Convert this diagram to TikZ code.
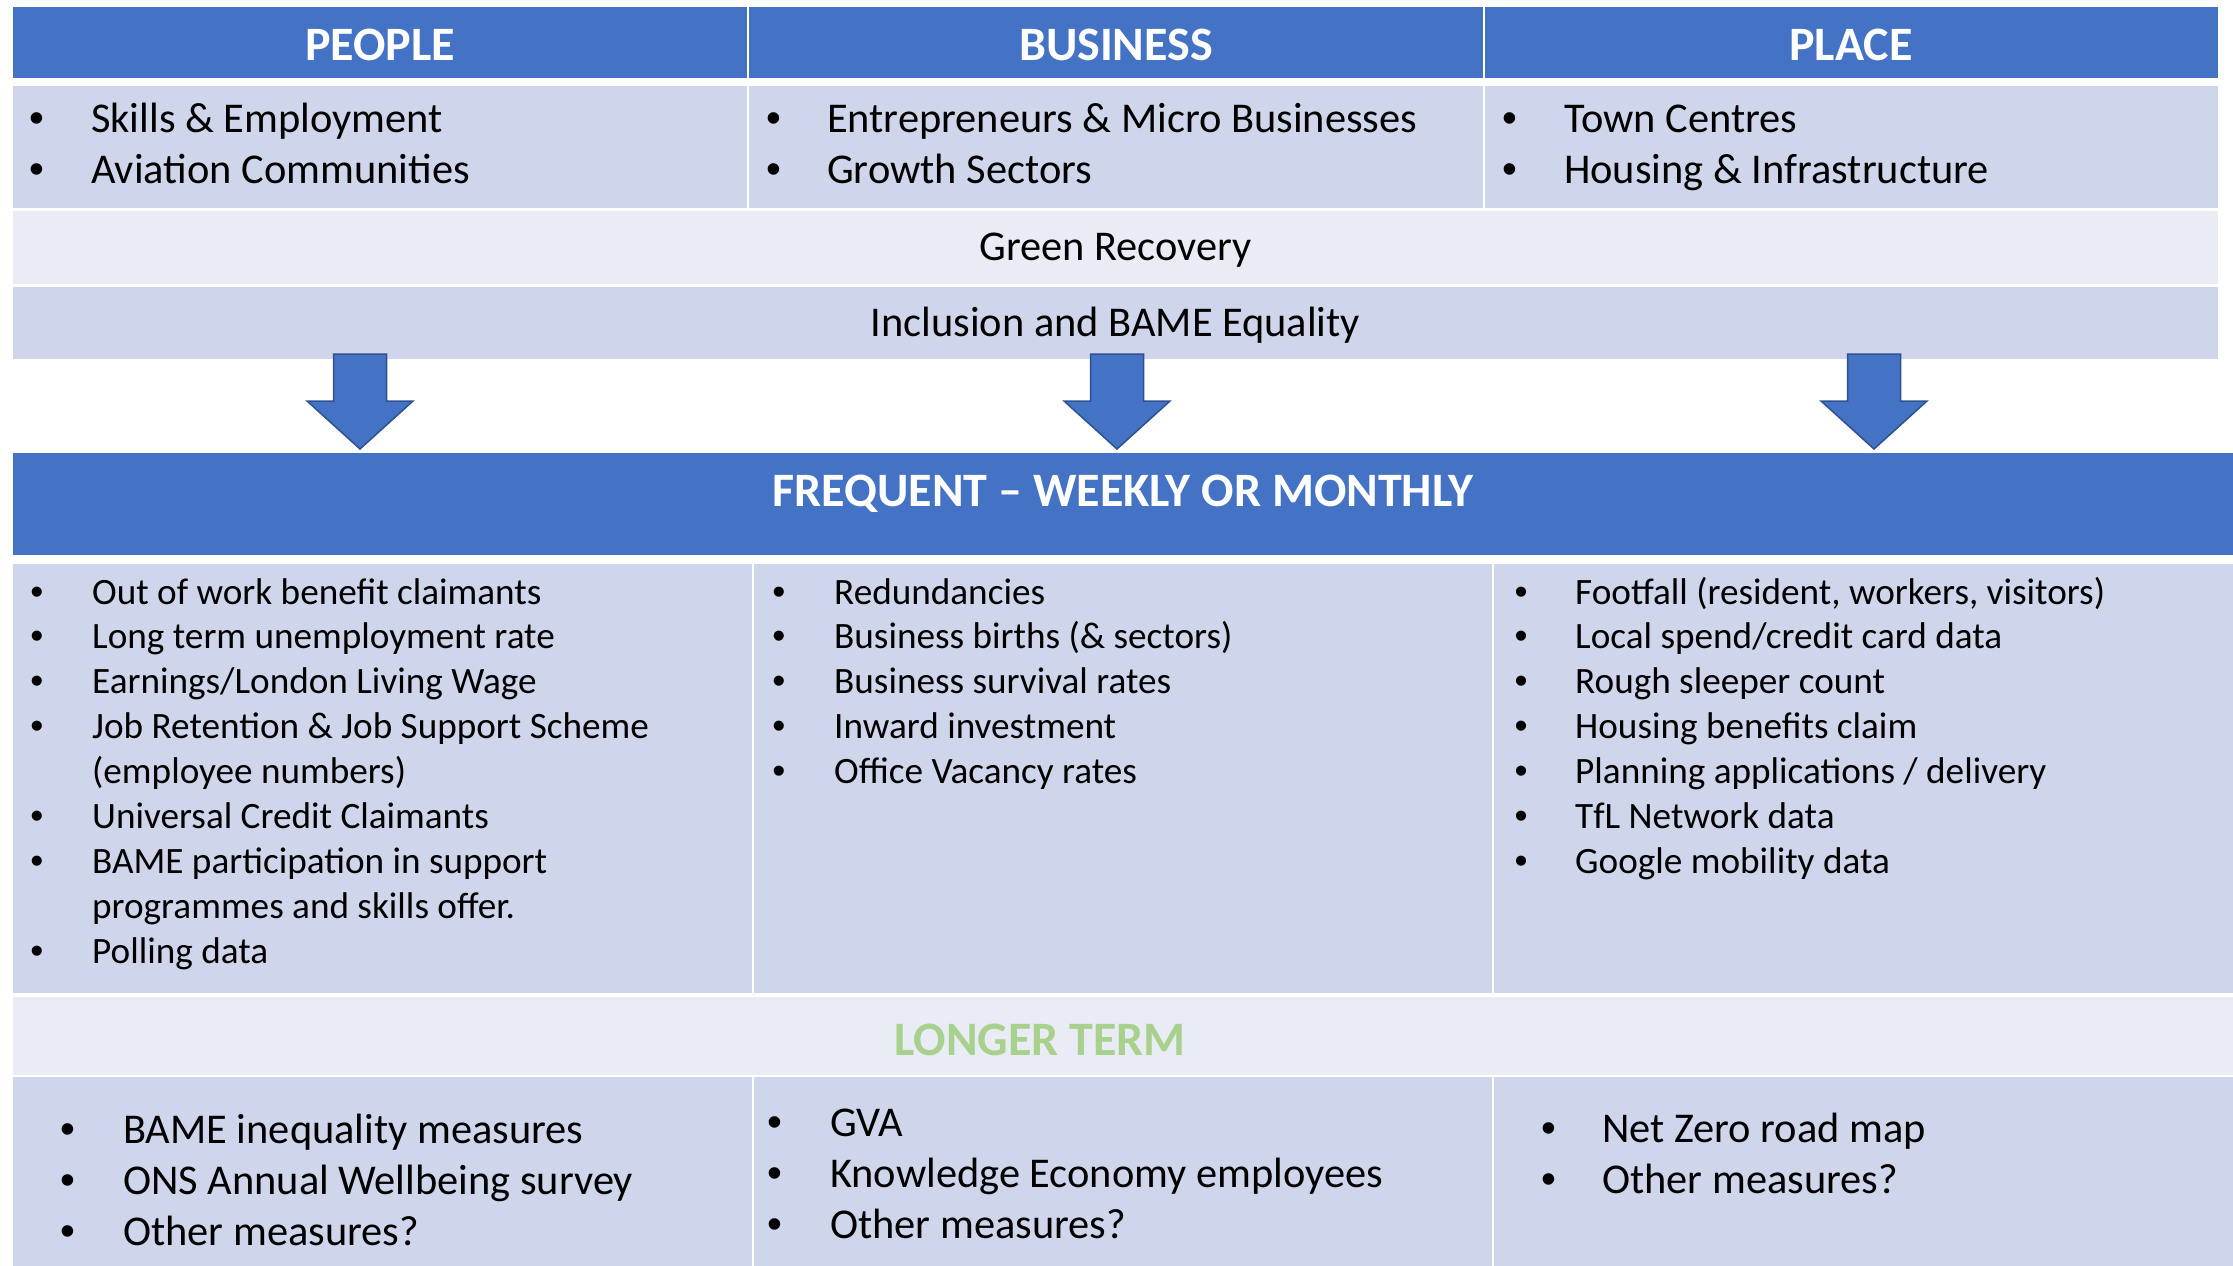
\documentclass[tikz,border=0pt]{standalone}
\usepackage{fontspec}
\setmainfont{Carlito}
\newfontfamily\bulfont{Liberation Sans}
\definecolor{hdr}{HTML}{4472C4}
\definecolor{rowA}{HTML}{CFD5EA}
\definecolor{rowB}{HTML}{E9EBF5}
\definecolor{arrline}{HTML}{2F528F}
\definecolor{ltgreen}{HTML}{A9D18E}
\newcommand\bitem[6]{\node[#1bul] (#2b) at (#3,#5) {•}; \node[#1txt] (#2) at (#4,#5) {#6};}
\begin{document}
\begin{tikzpicture}[x=1pt,y=-1pt,
  hdrfill/.style={fill=hdr},
  darkrow/.style={fill=rowA},
  lightrow/.style={fill=rowB},
  htext/.style={anchor=base, inner sep=0, text=white, font=\fontsize{48}{56}\selectfont\bfseries},
  midtext/.style={anchor=base, inner sep=0, font=\fontsize{42.4}{50}\selectfont},
  bigbul/.style={anchor=base, inner sep=0, font=\bulfont\fontsize{42.4}{50}\selectfont},
  bigtxt/.style={anchor=base west, inner sep=0, font=\fontsize{42.4}{50}\selectfont},
  smlbul/.style={anchor=base, inner sep=0, font=\bulfont\fontsize{37.2}{45}\selectfont},
  smltxt/.style={anchor=base west, inner sep=0, font=\fontsize{37.2}{45}\selectfont},
  blockarrow/.style={fill=hdr, draw=arrline, line width=1.5pt, line join=miter}
]
\useasboundingbox (0,0) rectangle (2233,1266);
\fill[white] (0,0) rectangle (2233,1266);

% ---- top table ----
\fill[hdrfill] (13,7) rectangle (747,78);
\fill[hdrfill] (749,7) rectangle (1483,78);
\fill[hdrfill] (1485,7) rectangle (2218,78);
\fill[darkrow] (13,86) rectangle (747,208);
\fill[darkrow] (749,86) rectangle (1483,208);
\fill[darkrow] (1485,86) rectangle (2218,208);
\fill[lightrow] (13,211) rectangle (2218,284);
\fill[darkrow] (13,287) rectangle (2218,359);

\node[htext] (hpeople) at (380,60) {PEOPLE};
\node[htext] (hbusiness) at (1116,60) {BUSINESS};
\node[htext] (hplace) at (1851,60) {PLACE};

\bitem{big}{t1}{37}{91}{132}{Skills \& Employment}
\bitem{big}{t2}{37}{91}{183}{Aviation Communities}
\bitem{big}{t3}{774}{827}{132}{Entrepreneurs \& Micro Businesses}
\bitem{big}{t4}{774}{827}{183}{Growth Sectors}
\bitem{big}{t5}{1510}{1564}{132}{Town Centres}
\bitem{big}{t6}{1510}{1564}{183}{Housing \& Infrastructure}

\node[midtext] (green) at (1115.5,260) {Green Recovery};
\node[midtext] (incl) at (1115.5,336) {Inclusion and BAME Equality};

% ---- arrows ----
\foreach \cx/\nm in {360/a1,1117/a2,1874/a3}{
  \draw[blockarrow] (\cx-26.5,354) -- (\cx+26.5,354) -- (\cx+26.5,401) -- (\cx+53,401)
     -- (\cx,449) -- (\cx-53,401) -- (\cx-26.5,401) -- cycle;
}

% ---- frequent ----
\fill[hdrfill] (13,453) rectangle (2233,555);
\node[htext] (freq) at (1123,506) {FREQUENT – WEEKLY OR MONTHLY};

\fill[darkrow] (13,564) rectangle (752,993);
\fill[darkrow] (754,564) rectangle (1492,993);
\fill[darkrow] (1494,564) rectangle (2233,993);

\bitem{sml}{p1}{37}{92}{604}{Out of work benefit claimants}
\bitem{sml}{p2}{37}{92}{648.9}{Long term unemployment rate}
\bitem{sml}{p3}{37}{92}{693.8}{Earnings/London Living Wage}
\bitem{sml}{p4}{37}{92}{738.7}{Job Retention \& Job Support Scheme}
\node[smltxt] (p4c) at (92,783.6) {(employee numbers)};
\bitem{sml}{p5}{37}{92}{828.5}{Universal Credit Claimants}
\bitem{sml}{p6}{37}{92}{873.4}{BAME participation in support}
\node[smltxt] (p6c) at (92,918.3) {programmes and skills offer.};
\bitem{sml}{p7}{37}{92}{963.2}{Polling data}

\bitem{sml}{b1}{779}{834}{604}{Redundancies}
\bitem{sml}{b2}{779}{834}{648.9}{Business births (\& sectors)}
\bitem{sml}{b3}{779}{834}{693.8}{Business survival rates}
\bitem{sml}{b4}{779}{834}{738.7}{Inward investment}
\bitem{sml}{b5}{779}{834}{783.6}{Office Vacancy rates}

\bitem{sml}{l1}{1521}{1575}{604}{Footfall (resident, workers, visitors)}
\bitem{sml}{l2}{1521}{1575}{648.9}{Local spend/credit card data}
\bitem{sml}{l3}{1521}{1575}{693.8}{Rough sleeper count}
\bitem{sml}{l4}{1521}{1575}{738.7}{Housing benefits claim}
\bitem{sml}{l5}{1521}{1575}{783.6}{Planning applications / delivery}
\bitem{sml}{l6}{1521}{1575}{828.5}{TfL Network data}
\bitem{sml}{l7}{1521}{1575}{873.4}{Google mobility data}

% ---- longer term ----
\fill[lightrow] (13,997) rectangle (2233,1075);
\node[htext, text=ltgreen] (longer) at (1040,1055) {LONGER TERM};

\fill[darkrow] (13,1077) rectangle (752,1266);
\fill[darkrow] (754,1077) rectangle (1492,1266);
\fill[darkrow] (1494,1077) rectangle (2233,1266);

\bitem{big}{q1}{68}{123}{1143}{BAME inequality measures}
\bitem{big}{q2}{68}{123}{1194}{ONS Annual Wellbeing survey}
\bitem{big}{q3}{68}{123}{1245}{Other measures?}
\bitem{big}{r1}{775}{830}{1136}{GVA}
\bitem{big}{r2}{775}{830}{1187}{Knowledge Economy employees}
\bitem{big}{r3}{775}{830}{1238}{Other measures?}
\bitem{big}{s1}{1549}{1602}{1142}{Net Zero road map}
\bitem{big}{s2}{1549}{1602}{1193}{Other measures?}
\end{tikzpicture}
\end{document}
